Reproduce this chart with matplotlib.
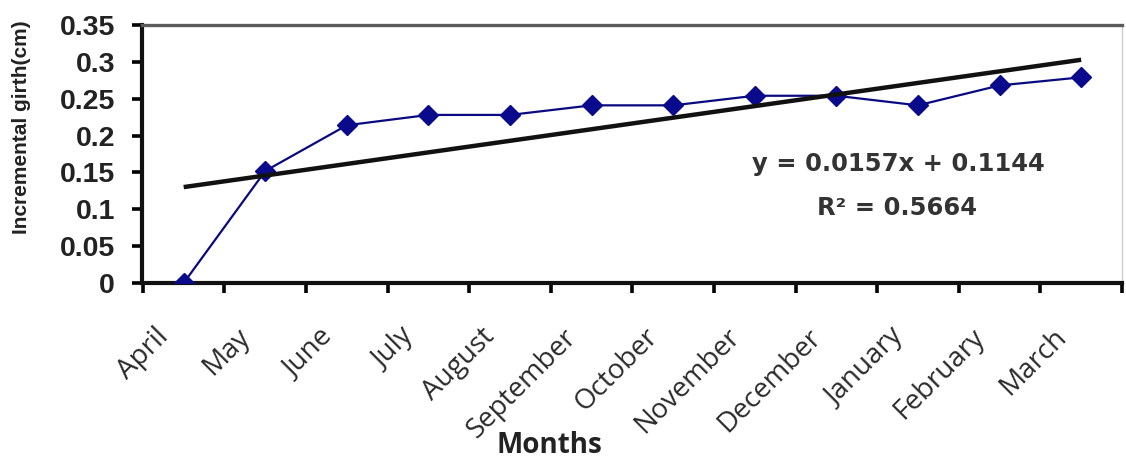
import matplotlib
matplotlib.use("Agg")
import matplotlib.pyplot as plt
from matplotlib.transforms import ScaledTranslation
import numpy as np

# monthly incremental girth (cm)
months = ['April', 'May', 'June', 'July', 'August', 'September', 'October',
          'November', 'December', 'January', 'February', 'March']
girth = [0.0, 0.152, 0.214, 0.228, 0.228, 0.241, 0.241, 0.254, 0.254,
         0.241, 0.268, 0.279]

# linear trend as reported on the chart
slope = 0.0157
intercept = 0.1144
r_squared = 0.5664

yticks = [0, 0.05, 0.1, 0.15, 0.2, 0.25, 0.3, 0.35]
ytick_labels = ['0', '0.05', '0.1', '0.15', '0.2', '0.25', '0.3', '0.35']

W, H = 1126, 461
fig = plt.figure(figsize=(W / 100, H / 100), dpi=100)
ax = fig.add_axes([0.1261, 0.3861, 0.8703, 0.5597])

x = np.arange(1, len(months) + 1)
ax.plot(x, girth, color='#0a0a80', lw=1.6, marker='D', ms=10,
        mfc='#0a0a8c', mec='#0a0a8c', zorder=3)

trend_x = np.array([x[0], x[-1]])
ax.plot(trend_x, slope * trend_x + intercept, color='#111111', lw=3.2,
        zorder=4, solid_capstyle='butt')

ax.set_xlim(0.489, 12.41)
ax.set_ylim(0, 0.35)

# y axis
ax.set_yticks(yticks)
ax.set_yticklabels(ytick_labels, fontfamily='Liberation Sans',
                   fontweight='bold', fontsize=20.5, color='#222222')
ax.tick_params(axis='y', direction='out', length=7.5, width=2.6, pad=12)

# x axis: boundaries get tick marks, names sit at category centres
ax.set_xticks(x)
ax.set_xticks(np.arange(0.5, 12.6, 1.0), minor=True)
ax.tick_params(axis='x', which='major', length=0, pad=0)
ax.tick_params(axis='x', which='minor', direction='out', length=7.5,
               width=2.6)
ax.set_xticklabels(months, rotation=45, ha='right', va='top',
                   rotation_mode='anchor', fontfamily='Open Sans',
                   fontsize=20, color='#2a2a2a')
shift = ScaledTranslation(-0.29, -0.40, fig.dpi_scale_trans)
for lbl in ax.get_xticklabels():
    lbl.set_transform(lbl.get_transform() + shift)

for side in ['left', 'bottom']:
    ax.spines[side].set_linewidth(3.0)
    ax.spines[side].set_color('#111111')
ax.spines['top'].set_linewidth(2.4)
ax.spines['top'].set_color('#5c5c5c')
ax.spines['right'].set_linewidth(1.0)
ax.spines['right'].set_color('#cccccc')

fig.text(22 / W, 1 - 127 / H, 'Incremental girth(cm)', rotation=90,
         ha='center', va='center', fontfamily='Liberation Sans',
         fontweight='bold', fontsize=15, color='#222222')
fig.text(549 / W, 1 - 453 / H, 'Months', ha='center', va='baseline',
         fontfamily='Open Sans', fontweight='bold', fontsize=20,
         color='#222222')

fig.text(898 / W, 1 - 164 / H, 'y = %.4fx + %.4f' % (slope, intercept),
         ha='center', va='center', fontfamily='DejaVu Sans',
         fontweight='bold', fontsize=17.5, color='#333333')
fig.text(897 / W, 1 - 208 / H, 'R² = %.4f' % r_squared,
         ha='center', va='center', fontfamily='DejaVu Sans',
         fontweight='bold', fontsize=17.5, color='#333333')

fig.savefig('out.png', dpi=100)
